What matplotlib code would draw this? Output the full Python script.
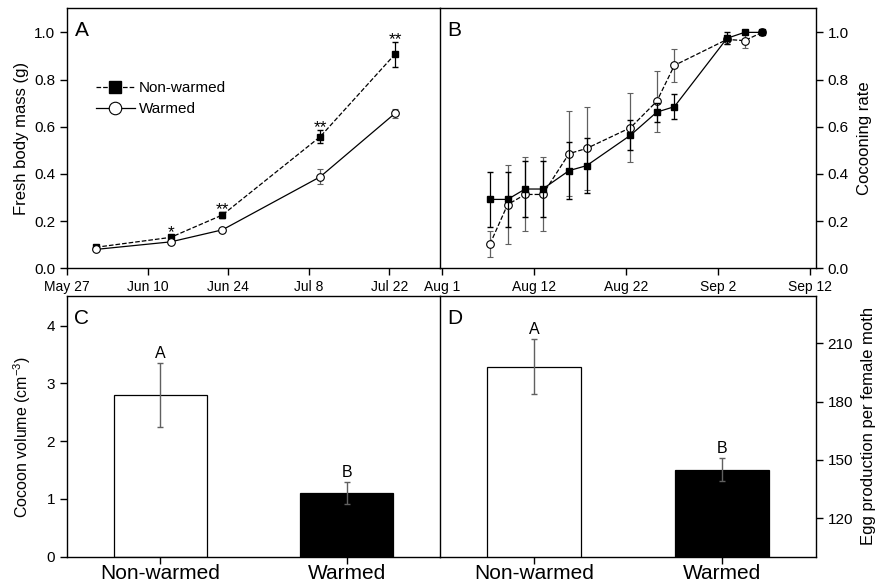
import matplotlib.pyplot as plt
from matplotlib.lines import Line2D
import numpy as np

plt.rcParams['font.family'] = ['Liberation Sans', 'DejaVu Sans']
plt.rcParams['mathtext.default'] = 'regular'
plt.rcParams['axes.linewidth'] = 1.0
plt.rcParams['xtick.direction'] = 'out'
plt.rcParams['ytick.direction'] = 'out'

# panel A: fresh body mass, x = days after May 27
mass_days = [5, 18, 27, 44, 57]
nw_mass = [0.089, 0.131, 0.226, 0.558, 0.908]
nw_mass_err = [0.008, 0.010, 0.012, 0.028, 0.053]
w_mass = [0.080, 0.112, 0.163, 0.388, 0.657]
w_mass_err = [0.006, 0.008, 0.008, 0.031, 0.020]
mass_sig = ['', '*', '**', '**', '**']
mass_ticks = [0, 14, 28, 42, 56]
mass_ticklabels = ['May 27', 'Jun 10', 'Jun 24', 'Jul 8', 'Jul 22']

# panel B: cocooning rate, x = days after Aug 1
coc_days = [5.5, 7.5, 9.5, 11.5, 14.5, 16.5, 21.5, 24.5, 26.5, 32.5, 34.5, 36.5]
nw_coc = [0.292, 0.292, 0.336, 0.336, 0.414, 0.435, 0.564, 0.662, 0.685, 0.975, 1.0, 1.0]
nw_coc_err = [0.115, 0.115, 0.117, 0.117, 0.120, 0.117, 0.063, 0.040, 0.052, 0.025, 0.0, 0.0]
w_coc = [0.103, 0.270, 0.313, 0.313, 0.486, 0.508, 0.596, 0.708, 0.860, 0.970, 0.965, 1.0]
w_coc_err = [0.055, 0.167, 0.157, 0.157, 0.180, 0.175, 0.145, 0.130, 0.070, 0.020, 0.030, 0.0]
coc_ticks = [0, 10.5, 21, 31.5, 42]
coc_ticklabels = ['Aug 1', 'Aug 12', 'Aug 22', 'Sep 2', 'Sep 12']

# panels C and D
groups = ['Non-warmed', 'Warmed']
cocoon_vol = [2.80, 1.10]
cocoon_vol_err = [0.55, 0.19]
egg_prod = [198, 145]
egg_prod_err = [14, 6]
group_letters = ['A', 'B']

W, H = 881, 588
fig = plt.figure(figsize=(W / 100, H / 100), dpi=100)

def box(x0, x1, ytop, ybot):
    return [x0 / W, 1 - ybot / H, (x1 - x0) / W, (ybot - ytop) / H]

axA = fig.add_axes(box(67, 440, 8.3, 268.3))
axB = fig.add_axes(box(440, 815.7, 8.3, 268.3))
axC = fig.add_axes(box(67, 440, 295.7, 556.7))
axD = fig.add_axes(box(440, 815.7, 295.7, 556.7))

ebgray = '#606060'

# ---- A
axA.errorbar(mass_days, nw_mass, yerr=nw_mass_err, color='black', ls='--', lw=0.9,
             marker='s', ms=5, mfc='black', mec='black', capsize=2.3, elinewidth=0.9,
             ecolor='black', zorder=3)
axA.errorbar(mass_days, w_mass, yerr=w_mass_err, color='black', ls='-', lw=0.9,
             marker='o', ms=5.5, mfc='white', mec='black', mew=0.8, capsize=2.3,
             elinewidth=0.9, ecolor=ebgray, zorder=3)
for x, y, e, s in zip(mass_days, nw_mass, nw_mass_err, mass_sig):
    if s:
        axA.annotate(s, (x, y + e), xytext=(0, -1.5), textcoords='offset points',
                     ha='center', va='baseline', fontsize=12.5)
axA.set_xlim(0, 64.8)
axA.set_ylim(0, 1.102)
axA.set_xticks(mass_ticks)
axA.set_xticklabels(mass_ticklabels, fontsize=10)
axA.set_yticks(np.arange(0, 1.01, 0.2))
axA.set_yticklabels(['0.0', '0.2', '0.4', '0.6', '0.8', '1.0'], fontsize=11)
axA.set_ylabel('Fresh body mass (g)', fontsize=12, labelpad=4)
axA.spines['right'].set_visible(False)
handles = [Line2D([], [], color='black', ls='--', lw=0.9, marker='s', ms=8,
                  mfc='black', mec='black'),
           Line2D([], [], color='black', ls='-', lw=0.9, marker='o', ms=9,
                  mfc='white', mec='black', mew=0.8)]
axA.legend(handles, ['Non-warmed', 'Warmed'], loc='upper left',
           bbox_to_anchor=(0.05, 0.76), frameon=False, fontsize=11,
           handlelength=2.5, handletextpad=0.3, labelspacing=0.45, borderpad=0.2)
axA.text(0.02, 0.95, 'A', transform=axA.transAxes, ha='left', va='top', fontsize=15)

# ---- B
axB.errorbar(coc_days, w_coc, yerr=w_coc_err, color='black', ls='--', lw=0.9,
             marker='o', ms=5.5, mfc='white', mec='black', mew=0.8, capsize=2.3,
             elinewidth=0.9, ecolor=ebgray, zorder=3)
axB.errorbar(coc_days, nw_coc, yerr=nw_coc_err, color='black', ls='-', lw=0.9,
             marker='s', ms=5, mfc='black', mec='black', capsize=2.3, elinewidth=0.9,
             ecolor='black', zorder=4)
axB.set_xlim(-0.2, 42.6)
axB.set_ylim(0, 1.102)
axB.set_xticks(coc_ticks)
axB.set_xticklabels(coc_ticklabels, fontsize=10)
axB.yaxis.tick_right()
axB.yaxis.set_label_position('right')
axB.set_yticks(np.arange(0, 1.01, 0.2))
axB.set_yticklabels(['0.0', '0.2', '0.4', '0.6', '0.8', '1.0'], fontsize=11)
axB.set_ylabel('Cocooning rate', fontsize=12, labelpad=6)
axB.text(0.02, 0.95, 'B', transform=axB.transAxes, ha='left', va='top', fontsize=15)

# ---- C and D
xpos = np.arange(len(groups))
bar_colors = ['white', 'black']

def bars(ax, vals, errs):
    ax.bar(xpos, vals, width=0.5, color=bar_colors, edgecolor='black', linewidth=0.9,
           zorder=2)
    ax.errorbar(xpos, vals, yerr=errs, fmt='none', ecolor=ebgray, elinewidth=1.0,
                capsize=2.3, zorder=3)
    for x, v, e, l in zip(xpos, vals, errs, group_letters):
        ax.annotate(l, (x, v + e), xytext=(0, 1.5), textcoords='offset points',
                    ha='center', va='bottom', fontsize=11.5)
    ax.set_xlim(-0.5, 1.5)
    ax.set_xticks(xpos)
    ax.set_xticklabels(groups, fontsize=15)
    ax.tick_params(axis='x', pad=0.5)

bars(axC, cocoon_vol, cocoon_vol_err)
axC.set_ylim(0, 4.52)
axC.set_yticks([0, 1, 2, 3, 4])
axC.tick_params(axis='y', labelsize=11)
axC.set_ylabel('Cocoon volume (cm$^{-3}$)', fontsize=11.5)
axC.yaxis.set_label_coords(-0.09, 0.46)
axC.spines['right'].set_visible(False)
axC.text(0.02, 0.95, 'C', transform=axC.transAxes, ha='left', va='top', fontsize=15)

bars(axD, egg_prod, egg_prod_err)
axD.set_ylim(100.2, 234.5)
axD.yaxis.tick_right()
axD.yaxis.set_label_position('right')
axD.set_yticks([120, 150, 180, 210])
axD.tick_params(axis='y', labelsize=11)
axD.set_ylabel('Egg production per female moth', fontsize=12, labelpad=6)
axD.text(0.02, 0.95, 'D', transform=axD.transAxes, ha='left', va='top', fontsize=15)

for ax in [axA, axB, axC, axD]:
    ax.tick_params(length=5, width=1.0)

fig.savefig('out.png', dpi=100)
